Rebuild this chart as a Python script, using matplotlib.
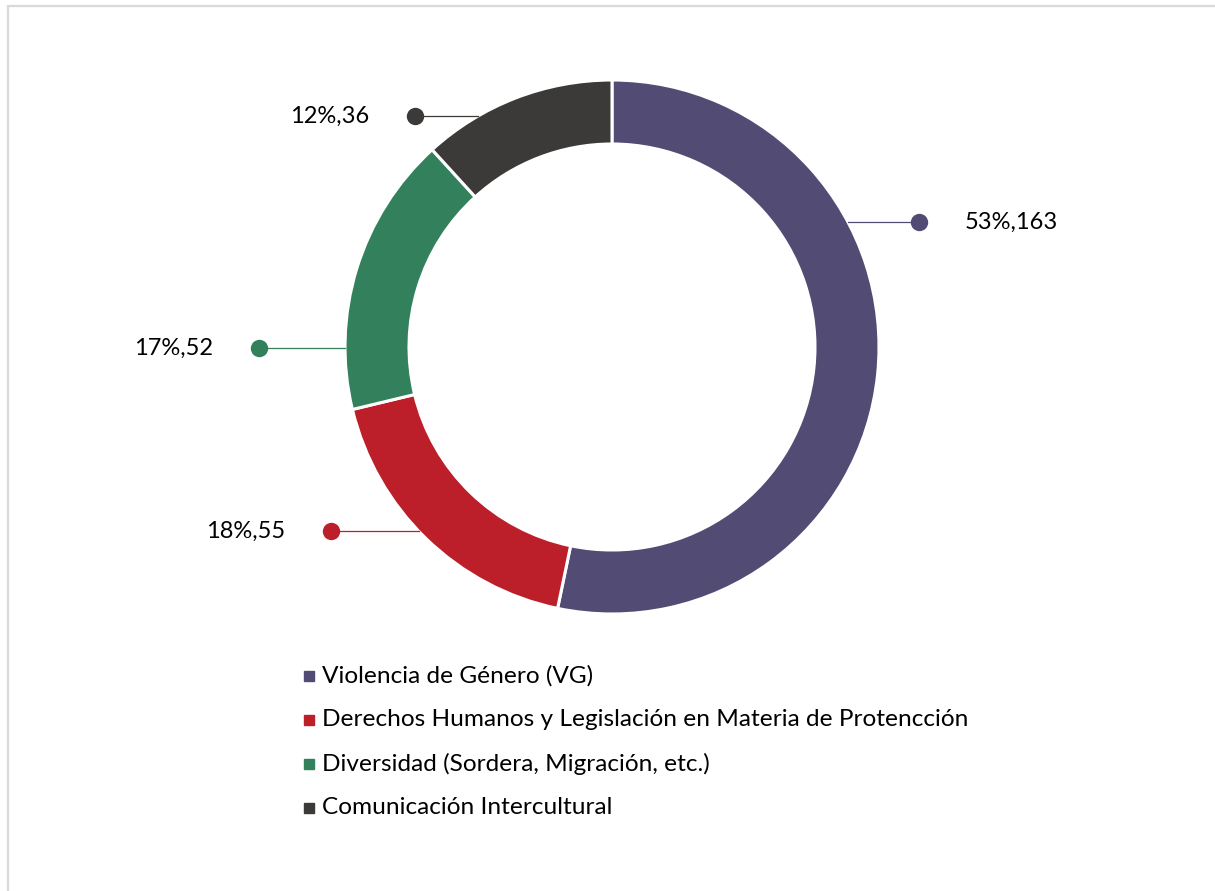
import matplotlib.pyplot as plt
from matplotlib.patches import Rectangle
import numpy as np

plt.rcParams["font.family"] = ["Lato", "DejaVu Sans"]

categories = [
    "Violencia de Género (VG)",
    "Derechos Humanos y Legislación en Materia de Protencción",
    "Diversidad (Sordera, Migración, etc.)",
    "Comunicación Intercultural",
]
counts = [163, 55, 52, 36]
colors = ["#524C74", "#BC1F2A", "#32805C", "#3B3A38"]

W, H = 1215, 891
fig = plt.figure(figsize=(W / 100, H / 100), dpi=100)
ax = fig.add_axes([0, 0, 1, 1])

# outer frame of the chart area
ax.add_patch(Rectangle((8, -20), W + 40, H - 6 + 20, fill=False,
                       edgecolor="#D9D9D9", linewidth=1.6))

cx, cy = 612, H - 347
r_out, r_in = 267, 203

wedges, _ = ax.pie(
    counts,
    colors=colors,
    startangle=90,
    counterclock=False,
    center=(cx, cy),
    radius=r_out,
    wedgeprops=dict(width=r_out - r_in, edgecolor="white", linewidth=2.2),
    frame=True,
)
ax.set_xlim(0, W)
ax.set_ylim(0, H)
ax.set_aspect("equal")
ax.axis("off")

total = sum(counts)
# (label row y in px from top, dot x, side)
label_rows = [(222, 919, "right"), (531, 331, "left"),
              (348, 259, "left"), (116, 415, "left")]

for n, col, (yrow, xdot, side) in zip(counts, colors, label_rows):
    y = H - yrow
    dy = abs(y - cy)
    dx = np.sqrt(r_out ** 2 - dy ** 2)
    xring = cx + dx if side == "right" else cx - dx
    ax.plot([xring, xdot], [y, y], color=col, linewidth=0.9, zorder=1)
    ax.plot(xdot, y, "o", color=col, markersize=11.5, zorder=3)
    text = f"{round(100 * n / total)}%,{n}"
    if side == "right":
        ax.text(xdot + 46, y, text, ha="left", va="center",
                fontsize=17, color="#000000")
    else:
        ax.text(xdot - 46, y, text, ha="right", va="center",
                fontsize=17, color="#000000")

# legend
for i, (name, col) in enumerate(zip(categories, colors)):
    y = H - (676 + 44 * i)
    ax.plot(309, y, "s", color=col, markersize=7.5)
    ax.text(322, y, name, ha="left", va="center", fontsize=17.6,
            color="#000000")

fig.savefig("out.png", dpi=100)
